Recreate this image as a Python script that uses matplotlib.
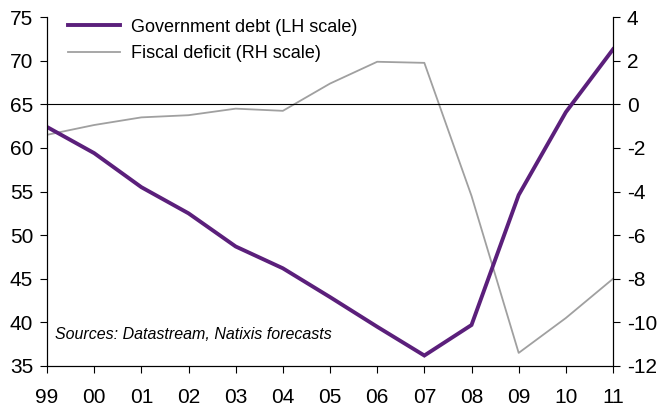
import matplotlib
matplotlib.use("Agg")
import matplotlib.pyplot as plt

plt.rcParams['font.family'] = ['Liberation Sans', 'DejaVu Sans']
plt.rcParams['axes.unicode_minus'] = False

years = ["99", "00", "01", "02", "03", "04", "05", "06", "07", "08", "09", "10", "11"]
gov_debt = [62.4, 59.4, 55.5, 52.5, 48.7, 46.2, 42.9, 39.5, 36.2, 39.7, 54.6, 64.1, 71.3]
fiscal_deficit = [-1.4, -0.95, -0.6, -0.5, -0.2, -0.3, 0.95, 1.95, 1.9, -4.2, -11.4, -9.8, -8.0]

purple = '#5b1f7b'
grey = '#a0a0a0'

fig = plt.figure(figsize=(6.62, 4.11), dpi=100)
ax = fig.add_axes([0.071, 0.1095, 0.855, 0.849])
ax2 = ax.twinx()

x = list(range(len(years)))
ax.axhline(65, color='black', lw=0.8, zorder=1)
l2, = ax2.plot(x, fiscal_deficit, color=grey, lw=1.3, label='Fiscal deficit (RH scale)')
l1, = ax.plot(x, gov_debt, color=purple, lw=2.8, label='Government debt (LH scale)',
              solid_joinstyle='miter')
ax.set_zorder(ax2.get_zorder() + 1)
ax.patch.set_visible(False)

ax.set_xlim(0, len(years) - 1)
ax.set_ylim(35, 75)
ax2.set_ylim(-12, 4)
ax.set_yticks(range(35, 76, 5))
ax2.set_yticks(range(-12, 5, 2))
ax.set_xticks(x)
ax.set_xticklabels(years)

for a in (ax, ax2):
    a.spines['top'].set_visible(False)
    for s in a.spines.values():
        s.set_linewidth(0.8)
    a.tick_params(direction='out', length=5, width=0.8, labelsize=15, pad=5)
ax.tick_params(axis='x', pad=11)

ax.legend([l1, l2], [l1.get_label(), l2.get_label()], loc='upper left',
          bbox_to_anchor=(0.037, 0.995), borderaxespad=0, borderpad=0,
          frameon=False, fontsize=13,
          handlelength=2.9, handletextpad=0.6, labelspacing=0.5)

ax.text(0.014, 0.089, 'Sources: Datastream, Natixis forecasts', transform=ax.transAxes,
        style='italic', fontsize=11.5, va='center')

fig.savefig('out.png', dpi=100)
